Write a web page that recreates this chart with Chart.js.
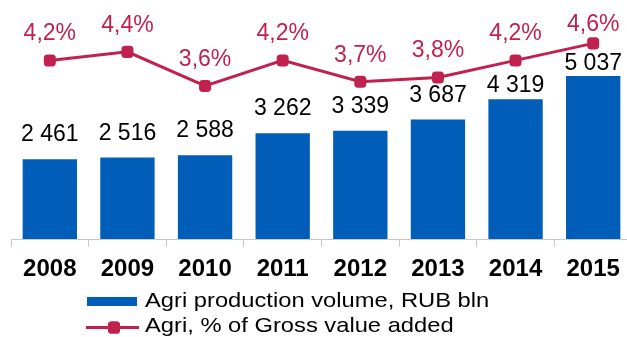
<!DOCTYPE html>
<html>
<head>
<meta charset="utf-8">
<script src="https://cdn.jsdelivr.net/npm/chart.js@4"></script>
<style>
    html, body { margin: 0; padding: 0; overflow: hidden; background: #fff; }
    #wrap { position: absolute; left: 0; top: 0; width: 632px; height: 337px; }
</style>
</head>
<body>
<div id="wrap"><canvas id="agriChart"></canvas></div>
<script>
// Data
const years = ['2008', '2009', '2010', '2011', '2012', '2013', '2014', '2015'];
const productionVolume = [2461, 2516, 2588, 3262, 3339, 3687, 4319, 5037];
const gvaShare = [4.2, 4.4, 3.6, 4.2, 3.7, 3.8, 4.2, 4.6];

const BLUE = '#005db8';
const CRIMSON = '#c0214f';
const FONT = "'Liberation Sans', Arial, sans-serif";

// gap between a label's baseline and the bar top / marker centre
const barLabelGap = [18, 18, 18, 18, 18, 18, 7, 6];
const lineLabelGap = [20, 20, 20, 20, 20, 20, 20, 12];

function fmtThousands(v) {
    return String(v).replace(/\B(?=(\d{3})+(?!\d))/g, ' ');
}
function fmtPercent(v) {
    return v.toFixed(1).replace('.', ',') + '%';
}

// Draw value labels over bars and line points
const valueLabels = {
    id: 'valueLabels',
    afterDatasetsDraw(chart) {
        const ctx = chart.ctx;
        ctx.save();
        ctx.font = '23px ' + FONT;
        ctx.textAlign = 'center';
        ctx.textBaseline = 'alphabetic';
        chart.data.datasets.forEach((ds, di) => {
            const meta = chart.getDatasetMeta(di);
            meta.data.forEach((el, i) => {
                if (ds.type === 'bar') {
                    ctx.fillStyle = '#000';
                    ctx.fillText(fmtThousands(ds.data[i]), el.x, el.y - barLabelGap[i]);
                } else {
                    ctx.fillStyle = CRIMSON;
                    ctx.fillText(fmtPercent(ds.data[i]), el.x, el.y - lineLabelGap[i]);
                }
            });
        });
        ctx.restore();
    }
};

// Legend drawn under the axis, like the original
const bottomLegend = {
    id: 'bottomLegend',
    afterDraw(chart) {
        const ctx = chart.ctx;
        const barDs = chart.data.datasets.find(d => d.type === 'bar');
        const lineDs = chart.data.datasets.find(d => d.type === 'line');
        ctx.save();

        // bar swatch
        ctx.fillStyle = BLUE;
        ctx.fillRect(87, 297, 50, 9);

        // line swatch with marker
        ctx.strokeStyle = CRIMSON;
        ctx.lineWidth = 3;
        ctx.beginPath();
        ctx.moveTo(86, 327.5);
        ctx.lineTo(139, 327.5);
        ctx.stroke();
        ctx.fillStyle = CRIMSON;
        Chart.helpers.drawPoint(ctx, { pointStyle: 'rectRounded', radius: 7, borderWidth: 0 }, 114, 327.5);
        ctx.fill();

        ctx.fillStyle = '#000';
        ctx.font = '21px ' + FONT;
        ctx.textBaseline = 'alphabetic';
        [[barDs.label, 307], [lineDs.label, 332]].forEach(([txt, y]) => {
            ctx.save();
            ctx.translate(145, y);
            ctx.scale(1.13, 1);
            ctx.fillText(txt, 0, 0);
            ctx.restore();
        });
        ctx.restore();
    }
};

const ctx = document.getElementById('agriChart').getContext('2d');
const agriChart = new Chart(ctx, {
    data: {
        labels: years,
        datasets: [
            {
                type: 'line',
                label: 'Agri, % of Gross value added',
                data: gvaShare,
                yAxisID: 'y1',
                borderColor: CRIMSON,
                backgroundColor: CRIMSON,
                borderWidth: 3,
                pointStyle: 'rectRounded',
                pointRadius: 7,
                pointHoverRadius: 7,
                pointBorderWidth: 0,
                tension: 0,
                clip: false,
                order: 0
            },
            {
                type: 'bar',
                label: 'Agri production volume, RUB bln',
                data: productionVolume,
                yAxisID: 'y',
                backgroundColor: BLUE,
                categoryPercentage: 1,
                barPercentage: 0.7,
                order: 1
            }
        ]
    },
    options: {
        responsive: true,
        maintainAspectRatio: false,
        animation: false,
        layout: { autoPadding: false, padding: { left: 11, right: 0, top: 0, bottom: 0 } },
        scales: {
            x: {
                offset: true,
                grid: {
                    offset: true,
                    drawOnChartArea: false,
                    drawTicks: true,
                    tickLength: 8,
                    color: '#c9c9c9'
                },
                border: { display: true, color: '#c9c9c9' },
                ticks: {
                    color: '#000',
                    padding: 8,
                    font: { family: FONT, size: 24, weight: 'bold' }
                },
                afterFit(scale) { scale.height = 98; }
            },
            y: { display: false, min: 0, max: 7380 },
            y1: { display: false, min: 0, max: 5.62 }
        },
        plugins: {
            legend: { display: false },
            tooltip: { enabled: false }
        }
    },
    plugins: [valueLabels, bottomLegend]
});
</script>
</body>
</html>
